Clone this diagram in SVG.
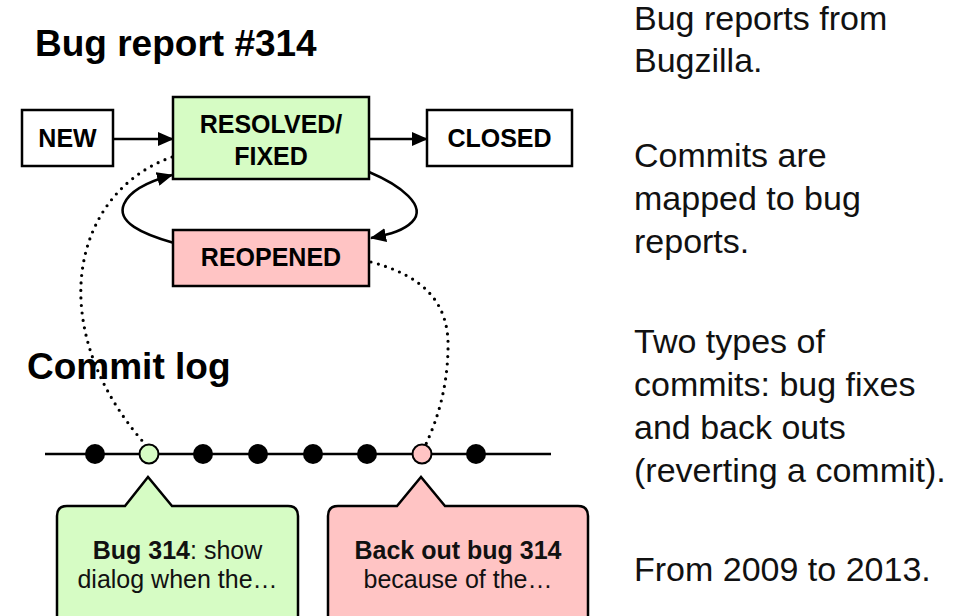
<svg xmlns="http://www.w3.org/2000/svg" width="956" height="616" viewBox="0 0 956 616">
<defs>
<style>
.box{stroke:#000;stroke-width:2.5}
.lbl{font-family:"Liberation Sans",Arial,sans-serif;font-weight:bold;font-size:25px;fill:#000;text-anchor:middle}
.title{font-family:"Liberation Sans",Arial,sans-serif;font-weight:bold;font-size:37px;fill:#000}
.side{font-family:"Liberation Sans",Arial,sans-serif;font-size:34px;fill:#111}
.call{font-family:"Liberation Sans",Arial,sans-serif;font-size:25px;fill:#111;text-anchor:middle}
.edge{fill:none;stroke:#000;stroke-width:2.5}
.dot{fill:none;stroke:#000;stroke-width:3.2;stroke-linecap:round;stroke-dasharray:0 7.5}
.green{fill:#d6fcc4}
.pink{fill:#ffc4c4}
</style>
<marker id="arr" markerUnits="userSpaceOnUse" markerWidth="16" markerHeight="14" refX="15" refY="7" orient="auto">
<path d="M0,0 L16,7 L0,14 Z" fill="#000"/>
</marker>
</defs>
<rect width="956" height="616" fill="#fff"/>

<text class="title" x="35" y="56">Bug report #314</text>
<text class="title" x="27" y="379">Commit log</text>

<g id="connectors">
<path class="edge" d="M113,139 L173,139" marker-end="url(#arr)"/>
<path class="edge" d="M369,139 L427,139" marker-end="url(#arr)"/>
<path class="edge" d="M369,172 C400,185 428,206 412,222 C404,230 392,234 371,238" marker-end="url(#arr)"/>
<path class="edge" d="M174,243 C142,234 116,222 124,204 C130,190 150,181 172,175" marker-end="url(#arr)"/>
<path class="dot" d="M172,157 C112,178 78,235 81,300 C84,360 115,410 145,444"/>
<path class="dot" d="M371,262 C420,275 450,300 448,350 C447,390 437,420 426,444"/>
<path class="edge" d="M45,454 L551,454"/>
</g>

<g id="node-new">
<rect class="box" x="22" y="110" width="91" height="56" fill="#fff"/>
<text class="lbl" x="67.5" y="147">NEW</text>
</g>
<g id="node-resolved">
<rect class="box green" x="173" y="97" width="196" height="82"/>
<text class="lbl" x="271" y="133">RESOLVED/</text>
<text class="lbl" x="271" y="165">FIXED</text>
</g>
<g id="node-closed">
<rect class="box" x="427" y="110" width="145" height="56" fill="#fff"/>
<text class="lbl" x="499.5" y="147">CLOSED</text>
</g>
<g id="node-reopened">
<rect class="box pink" x="173" y="230" width="196" height="56"/>
<text class="lbl" x="271" y="266">REOPENED</text>
</g>

<g id="commits">
<circle cx="95" cy="454" r="10" fill="#000"/>
<circle cx="149" cy="454" r="9.5" class="green" stroke="#000" stroke-width="2"/>
<circle cx="203" cy="454" r="10" fill="#000"/>
<circle cx="258" cy="454" r="10" fill="#000"/>
<circle cx="313" cy="454" r="10" fill="#000"/>
<circle cx="367" cy="454" r="10" fill="#000"/>
<circle cx="422" cy="454" r="9.5" class="pink" stroke="#000" stroke-width="2"/>
<circle cx="476" cy="454" r="10" fill="#000"/>
</g>

<g id="callout-fix">
<path class="box green" d="M67,506 L125,506 L148,477 L172,506 L288,506 Q298,506 298,516 L298,630 L57,630 L57,516 Q57,506 67,506 Z"/>
<text class="call" x="177.5" y="559"><tspan font-weight="bold">Bug 314</tspan>: show</text>
<text class="call" x="177.5" y="588">dialog when the…</text>
</g>
<g id="callout-backout">
<path class="box pink" d="M338,506 L397,506 L421,477 L445,506 L578,506 Q588,506 588,516 L588,630 L328,630 L328,516 Q328,506 338,506 Z"/>
<text class="call" x="458" y="559" font-weight="bold">Back out bug 314</text>
<text class="call" x="458" y="588">because of the…</text>
</g>

<g id="notes">
<text class="side" x="634" y="30">Bug reports from</text>
<text class="side" x="634" y="72">Bugzilla.</text>
<text class="side" x="634" y="167">Commits are</text>
<text class="side" x="634" y="210">mapped to bug</text>
<text class="side" x="634" y="253">reports.</text>
<text class="side" x="634" y="353">Two types of</text>
<text class="side" x="634" y="396">commits: bug fixes</text>
<text class="side" x="634" y="439">and back outs</text>
<text class="side" x="634" y="482">(reverting a commit).</text>
<text class="side" x="634" y="581">From 2009 to 2013.</text>
</g>
</svg>
